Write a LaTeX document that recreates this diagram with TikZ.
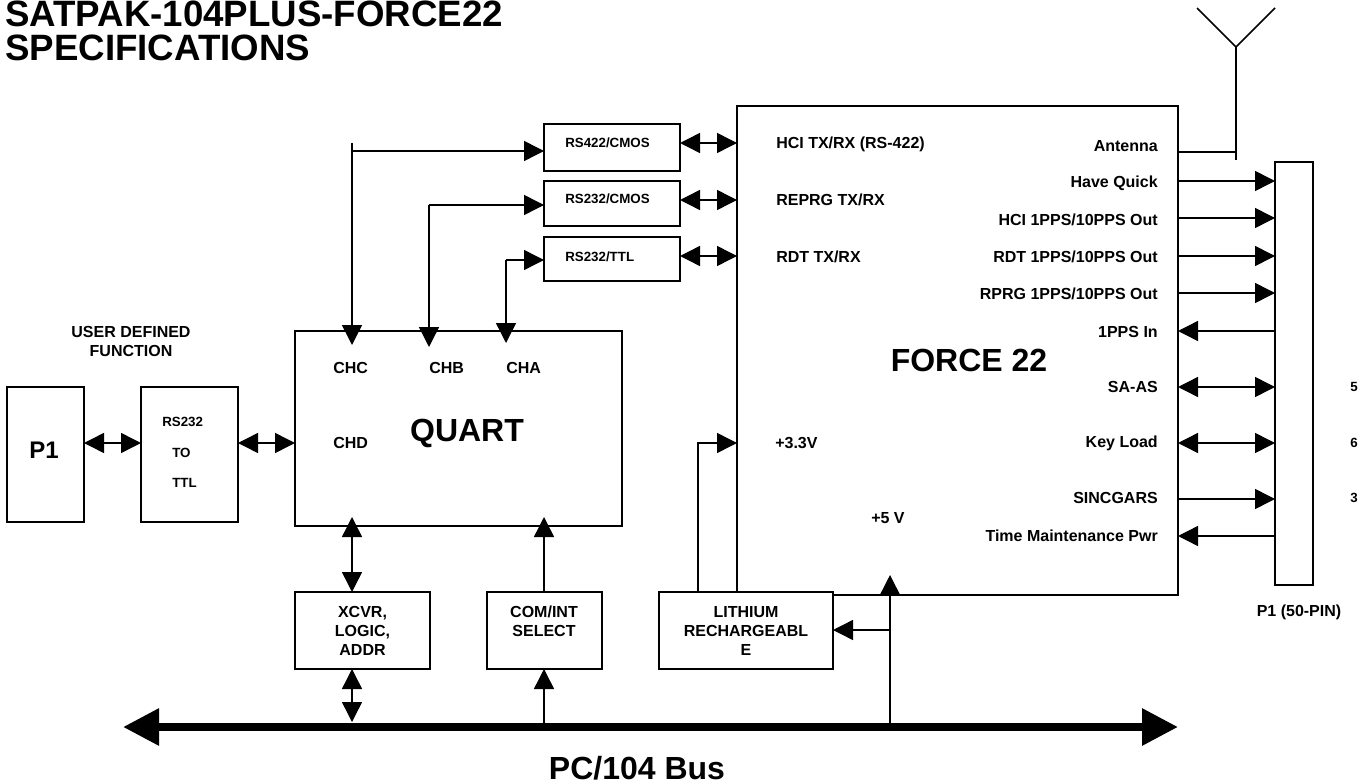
\documentclass[tikz,border=0pt]{standalone}
\usepackage{fontspec}
\setmainfont{Liberation Sans}
\usetikzlibrary{arrows.meta, calc}

\begin{document}
\begin{tikzpicture}[
    x=0.75pt, y=-0.75pt,
    font=\bfseries,
    >={Triangle[length=15pt, width=15pt]},
    % --- boxes ---
    box/.style   = {rectangle, draw=black, fill=white, line width=1.3pt, outer sep=0pt,
                    inner sep=0pt, align=center, font=\fontsize{12}{14.25}\selectfont\bfseries},
    % --- connectors ---
    arr/.style   = {line width=1.1pt, draw=black},
    busline/.style = {line width=6pt, draw=black, {Triangle[length=27pt, width=26.5pt]}-{Triangle[length=27pt, width=26.5pt]}},
    % --- texts ---
    lbl/.style   = {font=\fontsize{12}{14.25}\selectfont\bfseries, inner sep=0pt},
    sml/.style   = {font=\fontsize{10}{12}\selectfont\bfseries, inner sep=0pt},
    mid/.style   = {font=\fontsize{18}{20}\selectfont\bfseries, inner sep=0pt},
    big/.style   = {font=\fontsize{24}{26}\selectfont\bfseries, inner sep=0pt},
    ttl/.style   = {font=\fontsize{27.5}{25.5}\selectfont\bfseries, inner sep=0pt, align=left}
]
\useasboundingbox (0,0) rectangle (1362,784);

% ===================== BOXES =====================
\node[box, minimum width=330.75pt, minimum height=366.75pt] (force) at (957.5,350.5) {};
\node[box, minimum width=57.75pt,  minimum height=101.25pt] (pone)  at (45.5,454.5) {};
\node[box, minimum width=72.75pt,  minimum height=101.25pt] (conv)  at (189.5,454.5) {};
\node[box, minimum width=245.25pt, minimum height=146.25pt] (quart) at (458.5,428.5) {};
\node[box, minimum width=101.25pt, minimum height=57.75pt]  (xcvr)  at (362.5,630.5) {XCVR,\\ LOGIC,\\ ADDR};
\node[box, minimum width=86.25pt,  minimum height=57.75pt]  (com)   at (544.5,630.5) {};
\node[box, minimum width=130.5pt,  minimum height=57.75pt]  (lith)  at (746,630.5) {LITHIUM\\ RECHARGEABL\\ E};
\node[box, minimum width=102pt,    minimum height=35.25pt]  (rsa)   at (612,147.5) {};
\node[box, minimum width=102pt,    minimum height=33.75pt]  (rsb)   at (612,203.5) {};
\node[box, minimum width=102pt,    minimum height=33pt]     (rsc)   at (612,259) {};
\node[box, minimum width=28.5pt,   minimum height=317.25pt] (conn)  at (1294,373.5) {};

% ===================== TEXTS =====================
\node[ttl, anchor=west] (title) at (5,31) {SATPAK-104PLUS-FORCE22\\ SPECIFICATIONS};
\node[lbl, align=center] (user) at (131,341) {USER DEFINED\\ FUNCTION};
\node[mid] (ponetxt) at (44,450) {P1};
\node[sml, anchor=west] (convtxta) at (162,422) {RS232};
\node[sml, anchor=west] (convtxtb) at (172,453) {TO};
\node[sml, anchor=west] (convtxtc) at (172,483) {TTL};
\node[big] (quarttxt) at (467,433) {QUART};
\node[big] (forcetxt) at (969,360) {FORCE 22};
\node[big] (bustxt) at (637,768) {PC/104 Bus};
\node[lbl, anchor=west] (chc) at (333,368) {CHC};
\node[lbl, anchor=west] (chb) at (429,368) {CHB};
\node[lbl, anchor=west] (cha) at (506,368) {CHA};
\node[lbl, anchor=west] (chd) at (333,443) {CHD};
\node[lbl, align=center] (comtxt) at (544,621) {COM/INT\\ SELECT};
\node[sml, anchor=west] (rsatxt) at (565,143) {RS422/CMOS};
\node[sml, anchor=west] (rsbtxt) at (565,199) {RS232/CMOS};
\node[sml, anchor=west] (rsctxt) at (565,257) {RS232/TTL};
\node[lbl, anchor=west] (hci) at (776,144) {HCI TX/RX (RS-422)};
\node[lbl, anchor=west] (rep) at (776,200) {REPRG TX/RX};
\node[lbl, anchor=west] (rdt) at (776,257) {RDT TX/RX};
\node[lbl, anchor=west] (vthree) at (775,443) {+3.3V};
\node[lbl, anchor=west] (vfive) at (871,518) {+5 V};
\node[lbl, anchor=east] (sant) at (1158,146) {Antenna};
\node[lbl, anchor=east] (shq)  at (1158,183) {Have Quick};
\node[lbl, anchor=east] (shci) at (1158,220) {HCI 1PPS/10PPS Out};
\node[lbl, anchor=east] (srdt) at (1158,257) {RDT 1PPS/10PPS Out};
\node[lbl, anchor=east] (srp)  at (1158,294) {RPRG 1PPS/10PPS Out};
\node[lbl, anchor=east] (spps) at (1158,332) {1PPS In};
\node[lbl, anchor=east] (ssa)  at (1158,387) {SA-AS};
\node[lbl, anchor=east] (skey) at (1158,443) {Key Load};
\node[lbl, anchor=east] (ssin) at (1158,498) {SINCGARS};
\node[lbl, anchor=east] (stim) at (1158,536) {Time Maintenance Pwr};
\node[lbl] (connname) at (1299,612) {P1 (50-PIN)};
\node[sml] (pinfive) at (1354,387) {5};
\node[sml] (pinsix) at (1354,443) {6};
\node[sml] (pinthree) at (1354,498) {3};

% ===================== COORDINATES =====================
\coordinate (rowhci) at (0,143);
\coordinate (rowrep) at (0,200);
\coordinate (rowrdt) at (0,256);
\coordinate (rowhq) at (0,181);
\coordinate (rowone) at (0,218);
\coordinate (rowtwo) at (0,256);
\coordinate (rowthree) at (0,293);
\coordinate (rowpps) at (0,331);
\coordinate (rowsa) at (0,387);
\coordinate (rowkey) at (0,443);
\coordinate (rowsin) at (0,499);
\coordinate (rowtim) at (0,536);
\coordinate (rowant) at (0,152);
\coordinate (rowbus) at (0,727);
\coordinate (chcx) at (352,143);
\coordinate (chbx) at (429,205);
\coordinate (chax) at (506,260);
\coordinate (comx) at (544,0);
\coordinate (vfx) at (890,0);
\coordinate (vtx) at (698,0);
\coordinate (antbase) at (1236,47);
\coordinate (antl) at (1197,8);
\coordinate (antr) at (1275,8);
\coordinate (busl) at (123,727);
\coordinate (busr) at (1178,727);

% ===================== CONNECTORS =====================
\draw[busline] (busl) -- (busr);

\draw[arr, <->] (pone.east |- rowkey) -- (conv.west |- rowkey);
\draw[arr, <->] (conv.east |- rowkey) -- (quart.west |- rowkey);

\draw[arr, <->] (rsa.east |- rowhci) -- (force.west |- rowhci);
\draw[arr, <->] (rsb.east |- rowrep) -- (force.west |- rowrep);
\draw[arr, <->] (rsc.east |- rowrdt) -- (force.west |- rowrdt);

% channels into the quart
\draw[arr, ->] (chcx) -- ($(chcx |- quart.north)+(0,14)$);
\draw[arr, ->] (chcx |- 0,151) -- (rsa.west |- 0,151);
\draw[arr, ->] (chbx) -- ($(chbx |- quart.north)+(0,16)$);
\draw[arr, ->] (chbx) -- (rsb.west |- chbx);
\draw[arr, ->] (chax) -- ($(chax |- quart.north)+(0,12)$);
\draw[arr, ->] (chax) -- (rsc.west |- chax);

% below the quart
\draw[arr, <->] ($(chcx |- quart.south)+(0,-9)$) -- (chcx |- xcvr.north);
\draw[arr, ->] (comx |- com.north) -- ($(comx |- quart.south)+(0,-9)$);
\draw[arr, <->] (chcx |- xcvr.south) -- (chcx |- 0,722);
\draw[arr, ->] (comx |- rowbus) -- (comx |- com.south);

% power
\draw[arr, ->] (vtx |- lith.north) -- (vtx |- rowkey) -- (force.west |- rowkey);
\draw[arr, ->] (vfx |- rowbus) -- (vfx |- force.south) -- ++(0,-20);
\draw[arr, ->] (vfx |- 0,630) -- (lith.east |- 0,630);

% signals to the connector
\draw[arr, ->] (force.east |- rowhq) -- (conn.west |- rowhq);
\draw[arr, ->] (force.east |- rowone) -- (conn.west |- rowone);
\draw[arr, ->] (force.east |- rowtwo) -- (conn.west |- rowtwo);
\draw[arr, ->] (force.east |- rowthree) -- (conn.west |- rowthree);
\draw[arr, <-] (force.east |- rowpps) -- (conn.west |- rowpps);
\draw[arr, <->] (force.east |- rowsa) -- (conn.west |- rowsa);
\draw[arr, <->] (force.east |- rowkey) -- (conn.west |- rowkey);
\draw[arr, ->] (force.east |- rowsin) -- (conn.west |- rowsin);
\draw[arr, <-] (force.east |- rowtim) -- (conn.west |- rowtim);

% antenna
\draw[arr] (force.east |- rowant) -- (antbase |- rowant);
\draw[arr] (antbase |- 0,160) -- (antbase);
\draw[arr] (antl) -- (antbase) -- (antr);

\end{tikzpicture}
\end{document}
